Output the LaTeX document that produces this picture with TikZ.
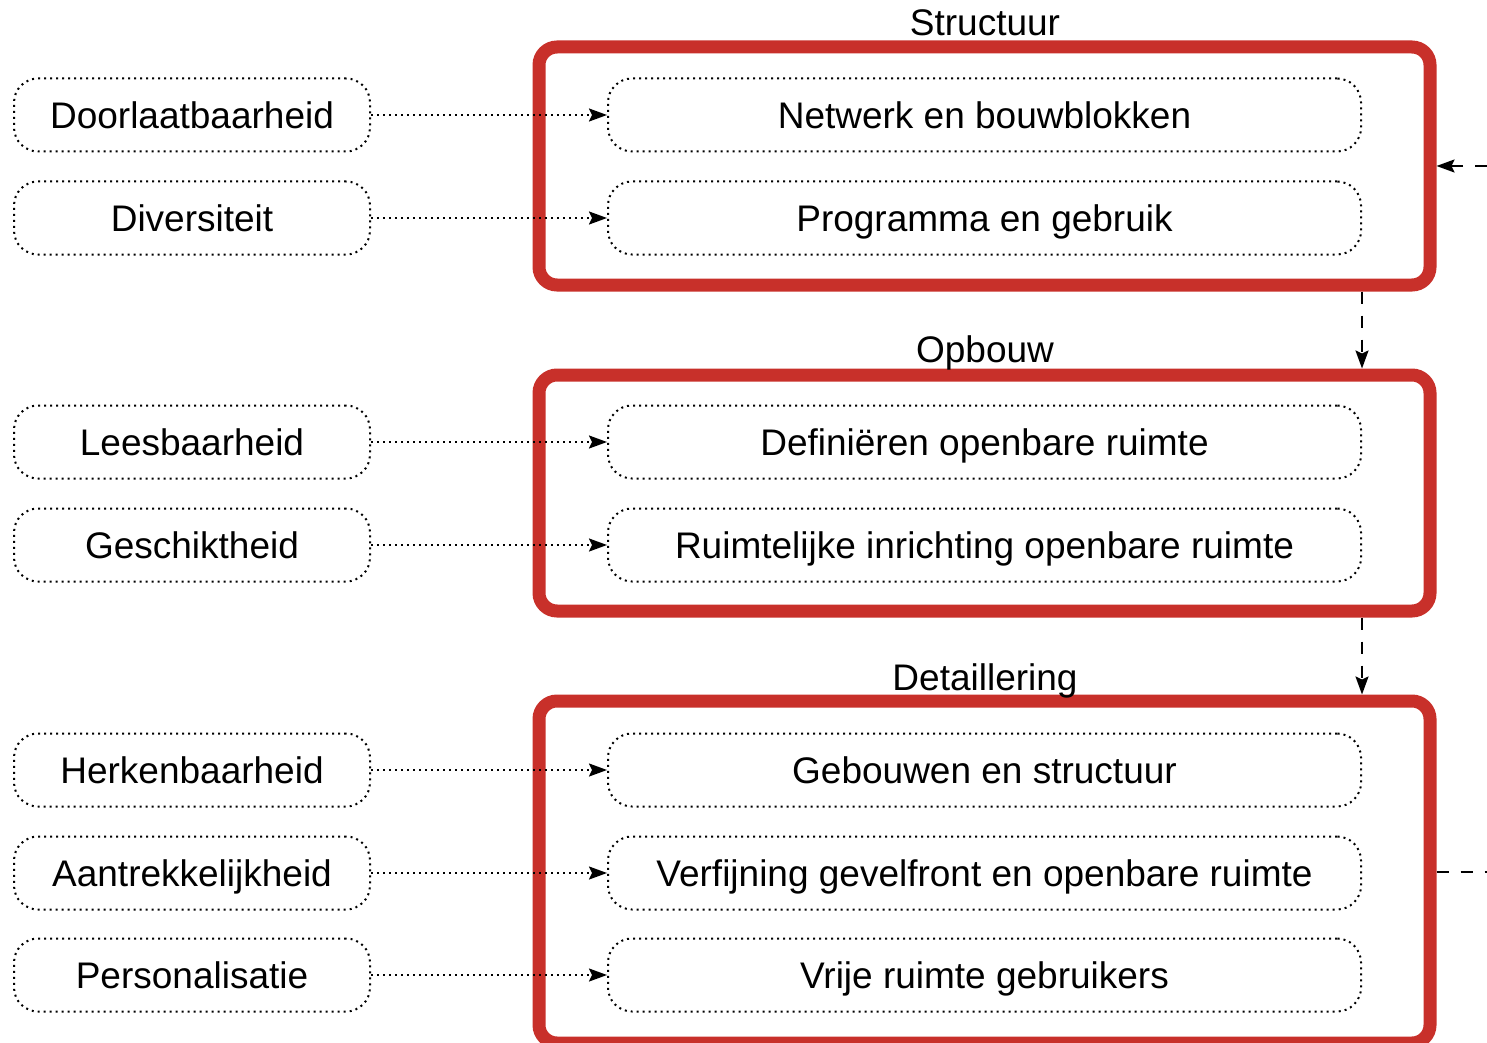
\documentclass[tikz,border=0pt]{standalone}
\usepackage{fontspec}
\setmainfont{Liberation Sans}
\usetikzlibrary{arrows.meta}
\definecolor{framered}{RGB}{200,48,42}
\tikzset{
	label/.style={text height=13.5pt,text depth=0pt,inner sep=0pt},
	crit/.style={label,draw,dotted,line width=1pt,rounded corners=12pt,minimum width=178pt,minimum height=36.5pt},
	aspect/.style={crit,minimum width=376.5pt},
	phase/.style={draw=framered,line width=6.5pt,rounded corners=9pt,minimum width=445.5pt,inner sep=0pt},
	link/.style={dotted,line width=1pt,-{Stealth[length=9pt,width=6.5pt,inset=1.5pt]}},
	flow/.style={line width=1pt,dash pattern=on 6pt off 6pt,-{Stealth[length=9pt,width=6.5pt,inset=1.5pt]}}
}
\begin{document}
\begin{tikzpicture}[x=0.5pt,y=-0.5pt,font=\fontsize{18.5}{22}\selectfont]
	\useasboundingbox (0,0) rectangle (1487,1043);
	\node[phase,minimum height=119pt] (f1) at (984.5,166) {};
	\node[phase,minimum height=118pt] (f2) at (984.5,493) {};
	\node[phase,minimum height=171pt] (f3) at (984.5,872) {};
	\node[label] (t1) at (985,22) {Structuur};
	\node[label] (t2) at (985,349) {Opbouw};
	\node[label] (t3) at (985,677) {Detaillering};
	\node[crit] (c1) at (192,115) {Doorlaatbaarheid};
	\node[crit] (c2) at (192,218) {Diversiteit};
	\node[crit] (c3) at (192,442) {Leesbaarheid};
	\node[crit] (c4) at (192,545) {Geschiktheid};
	\node[crit] (c5) at (192,770) {Herkenbaarheid};
	\node[crit] (c6) at (192,873) {Aantrekkelijkheid};
	\node[crit] (c7) at (192,975) {Personalisatie};
	\node[aspect] (a1) at (984.5,115) {Netwerk en bouwblokken};
	\node[aspect] (a2) at (984.5,218) {Programma en gebruik};
	\node[aspect] (a3) at (984.5,442) {Definiëren openbare ruimte};
	\node[aspect] (a4) at (984.5,545) {Ruimtelijke inrichting openbare ruimte};
	\node[aspect] (a5) at (984.5,770) {Gebouwen en structuur};
	\node[aspect] (a6) at (984.5,873) {Verfijning gevelfront en openbare ruimte};
	\node[aspect] (a7) at (984.5,975) {Vrije ruimte gebruikers};
	\draw[link] (c1) -- (a1);
	\draw[link] (c2) -- (a2);
	\draw[link] (c3) -- (a3);
	\draw[link] (c4) -- (a4);
	\draw[link] (c5) -- (a5);
	\draw[link] (c6) -- (a6);
	\draw[link] (c7) -- (a7);
	% between the phases
	\draw[flow] (f1.south -| a1.east) -- (f2.north -| a1.east);
	\draw[flow] (f2.south -| a1.east) -- (f3.north -| a1.east);
	% loop back, cut off at the right
	\coordinate (fbin) at (1487,166);
	\coordinate (fbout) at (1487,872);
	\draw[flow] (fbin) -- (f1.east);
	\draw[flow,-] (f3.east) -- (fbout);
\end{tikzpicture}
\end{document}
